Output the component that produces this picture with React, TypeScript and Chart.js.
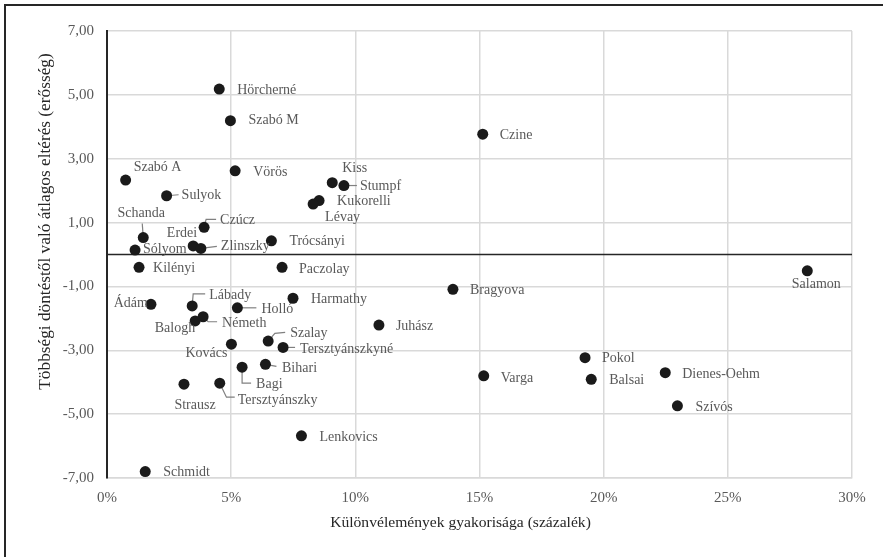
import React, { useEffect, useRef } from "react";
import { Chart, registerables } from "chart.js";

Chart.register(...registerables);

// ---- DATA ----
const judges = [
  "Hörcherné", "Szabó M", "Vörös", "Szabó A", "Sulyok", "Czine", "Kiss", "Stumpf",
  "Kukorelli", "Lévay", "Trócsányi", "Paczolay", "Harmathy", "Bragyova", "Juhász",
  "Szalay", "Tersztyánszkyné", "Bihari", "Lenkovics", "Czúcz", "Schanda", "Erdei",
  "Sólyom", "Zlinszky", "Kilényi", "Ádám", "Lábady", "Holló", "Németh", "Balogh",
  "Kovács", "Bagi", "Strausz", "Tersztyánszky", "Schmidt", "Salamon", "Pokol",
  "Balsai", "Dienes-Oehm", "Szívós", "Varga",
];
// Különvélemények gyakorisága (%)
const dissentRate = [
  4.52, 4.97, 5.16, 0.75, 2.40, 15.13, 9.07, 9.54,
  8.54, 8.30, 6.62, 7.05, 7.49, 13.93, 10.95,
  6.49, 7.09, 6.38, 7.83, 3.91, 1.46, 3.47,
  1.13, 3.78, 1.29, 1.77, 3.43, 5.25, 3.87, 3.55,
  5.01, 5.44, 3.10, 4.54, 1.54, 28.20, 19.25,
  19.50, 22.48, 22.97, 15.17,
];
// Többségi döntéstől való átlagos eltérés
const deviation = [
  5.18, 4.19, 2.62, 2.33, 1.84, 3.77, 2.25, 2.16,
  1.69, 1.58, 0.43, -0.40, -1.37, -1.09, -2.21,
  -2.71, -2.91, -3.44, -5.68, 0.85, 0.53, 0.27,
  0.14, 0.19, -0.40, -1.56, -1.61, -1.67, -1.95, -2.08,
  -2.81, -3.53, -4.06, -4.03, -6.80, -0.51, -3.23,
  -3.91, -3.70, -4.74, -3.80,
];
const yTicks = [-7, -5, -3, -1, 1, 3, 5, 7];
const xTicks = [0, 5, 10, 15, 20, 25, 30];
const xTitle = "Különvélemények gyakorisága (százalék)";
const yTitle = "Többségi döntéstől való átlagos eltérés (erősség)";

// ---- LABEL PLACEMENT (presentation only: pixel offsets from each point) ----
type Place = { tx: number; ty: number; align?: CanvasTextAlign; leader?: number[][] };
const placement: Record<string, Place> = {
  "Hörcherné": { tx: 18, ty: 1 },
  "Szabó M": { tx: 18, ty: 0 },
  "Vörös": { tx: 18, ty: 1 },
  "Szabó A": { tx: 8, ty: -13 },
  "Sulyok": { tx: 15, ty: 0, leader: [[0, 0], [12, -1]] },
  "Czine": { tx: 17, ty: 1 },
  "Kiss": { tx: 10, ty: -14 },
  "Stumpf": { tx: 16, ty: 1, leader: [[0, 0], [13, 0]] },
  "Kukorelli": { tx: 18, ty: 1 },
  "Lévay": { tx: 12, ty: 13 },
  "Trócsányi": { tx: 18, ty: 1 },
  "Paczolay": { tx: 17, ty: 2 },
  "Harmathy": { tx: 18, ty: 1 },
  "Bragyova": { tx: 17, ty: 1 },
  "Juhász": { tx: 17, ty: 1 },
  "Szalay": { tx: 22, ty: -8, leader: [[0, 0], [6.7, -7.7], [17, -8.7]] },
  "Tersztyánszkyné": { tx: 17, ty: 2, leader: [[0, 0], [12, 0]] },
  "Bihari": { tx: 16.6, ty: 4, leader: [[0, 0], [11, 2]] },
  "Lenkovics": { tx: 18, ty: 1 },
  "Czúcz": { tx: 16, ty: -7, leader: [[0, 0], [2, -8], [12, -8]] },
  "Schanda": { tx: -2, ty: -24, align: "center", leader: [[0, 0], [-1, -14]] },
  "Erdei": { tx: 4, ty: -13, align: "right" },
  "Sólyom": { tx: 8, ty: -1 },
  "Zlinszky": { tx: 20, ty: -2, leader: [[0, 0], [16, -2]] },
  "Kilényi": { tx: 14, ty: 1 },
  "Ádám": { tx: -3, ty: -1, align: "right" },
  "Lábady": { tx: 17, ty: -11, leader: [[0, 0], [1, -12], [13, -12]] },
  "Holló": { tx: 24, ty: 2, leader: [[0, 0], [19, 0]] },
  "Németh": { tx: 19, ty: 6.6, leader: [[0, 0], [5, 5], [14, 5]] },
  "Balogh": { tx: 0, ty: 7, align: "right" },
  "Kovács": { tx: -4, ty: 9, align: "right" },
  "Bagi": { tx: 14, ty: 17, leader: [[0, 0], [0, 16], [9, 16]] },
  "Strausz": { tx: 11, ty: 21, align: "center" },
  "Tersztyánszky": { tx: 18, ty: 17, leader: [[0, 0], [6.7, 14], [15, 14]] },
  "Schmidt": { tx: 18, ty: 1 },
  "Salamon": { tx: 9, ty: 14, align: "center" },
  "Pokol": { tx: 17, ty: 1 },
  "Balsai": { tx: 18, ty: 1 },
  "Dienes-Oehm": { tx: 17, ty: 2 },
  "Szívós": { tx: 18, ty: 1 },
  "Varga": { tx: 17, ty: 2 },
};

const SERIF = "'Liberation Serif', 'Times New Roman', serif";

const annotate = {
  id: "annotate",
  beforeDatasetsDraw(chart: any) {
    const { ctx, chartArea, scales } = chart;
    const y0 = scales.y.getPixelForValue(0);
    ctx.save();
    ctx.strokeStyle = "#262626";
    ctx.lineWidth = 1.6;
    ctx.beginPath();
    ctx.moveTo(chartArea.left, y0);
    ctx.lineTo(chartArea.right, y0);
    ctx.stroke();
    // leader lines
    ctx.strokeStyle = "#808080";
    ctx.lineWidth = 1.2;
    const meta = chart.getDatasetMeta(0);
    meta.data.forEach((pt: any, i: number) => {
      const p = placement[judges[i]];
      if (!p || !p.leader) return;
      ctx.beginPath();
      p.leader.forEach((d, k) => {
        if (k === 0) ctx.moveTo(pt.x + d[0], pt.y + d[1]);
        else ctx.lineTo(pt.x + d[0], pt.y + d[1]);
      });
      ctx.stroke();
    });
    ctx.restore();
  },
  afterDatasetsDraw(chart: any) {
    const { ctx } = chart;
    const meta = chart.getDatasetMeta(0);
    ctx.save();
    ctx.font = `14px ${SERIF}`;
    ctx.fillStyle = "#595959";
    ctx.textBaseline = "middle";
    meta.data.forEach((pt: any, i: number) => {
      const p = placement[judges[i]] || { tx: 14, ty: 0 };
      ctx.textAlign = p.align || "left";
      ctx.fillText(judges[i], pt.x + p.tx, pt.y + p.ty);
    });
    ctx.restore();
  },
  afterDraw(chart: any) {
    const { ctx } = chart;
    ctx.save();
    ctx.fillStyle = "#262626";
    ctx.textAlign = "center";
    ctx.textBaseline = "middle";
    ctx.font = `15.6px ${SERIF}`;
    ctx.fillText(xTitle, 460.5, 523);
    ctx.translate(45, 221.5);
    ctx.rotate(-Math.PI / 2);
    ctx.font = `17.3px ${SERIF}`;
    ctx.fillText(yTitle, 0, 0);
    ctx.restore();
  },
};

export default function App() {
  const ref = useRef<HTMLCanvasElement | null>(null);

  useEffect(() => {
    if (!ref.current) return;
    const points = dissentRate.map((x, i) => ({ x, y: deviation[i] }));
    const chart = new Chart(ref.current, {
      type: "scatter",
      data: {
        datasets: [
          {
            data: points,
            backgroundColor: "#1a1a1a",
            borderWidth: 0,
            pointRadius: 5.5,
            pointHoverRadius: 5.5,
          },
        ],
      },
      options: {
        animation: false,
        responsive: false,
        maintainAspectRatio: false,
        layout: { padding: { left: 0, top: 31, right: 31, bottom: 0 } },
        plugins: { legend: { display: false }, tooltip: { enabled: false } },
        scales: {
          x: {
            type: "linear",
            min: 0,
            max: 30,
            afterFit: (s: any) => { s.height = 79; },
            afterBuildTicks: (s: any) => { s.ticks = xTicks.map((v) => ({ value: v })); },
            grid: { color: "#d9d9d9", lineWidth: 1.5, drawTicks: false },
            border: { color: "#d9d9d9", width: 1.5 },
            ticks: {
              padding: 11,
              color: "#595959",
              font: { family: SERIF, size: 15 },
              callback: (v: any) => `${v}%`,
            },
          },
          y: {
            type: "linear",
            min: -7,
            max: 7,
            afterFit: (s: any) => { s.width = 107; },
            afterBuildTicks: (s: any) => { s.ticks = yTicks.map((v) => ({ value: v })); },
            grid: { color: "#d9d9d9", lineWidth: 1.5, drawTicks: false },
            border: { color: "#262626", width: 2 },
            ticks: {
              padding: 13,
              color: "#595959",
              font: { family: SERIF, size: 15 },
              callback: (v: any) => Number(v).toFixed(2).replace(".", ","),
            },
          },
        },
      },
      plugins: [annotate],
    });
    return () => chart.destroy();
  }, []);

  return (
    <div
      style={{
        position: "fixed",
        left: 0,
        top: 0,
        width: 883,
        height: 557,
        overflow: "hidden",
        background: "#fff",
      }}
    >
      <canvas ref={ref} width={883} height={557} style={{ position: "absolute", left: 0, top: 0 }} />
      <div
        style={{
          position: "absolute",
          left: 4,
          top: 4,
          width: 950,
          height: 650,
          border: "2px solid #262626",
          pointerEvents: "none",
        }}
      />
    </div>
  );
}
